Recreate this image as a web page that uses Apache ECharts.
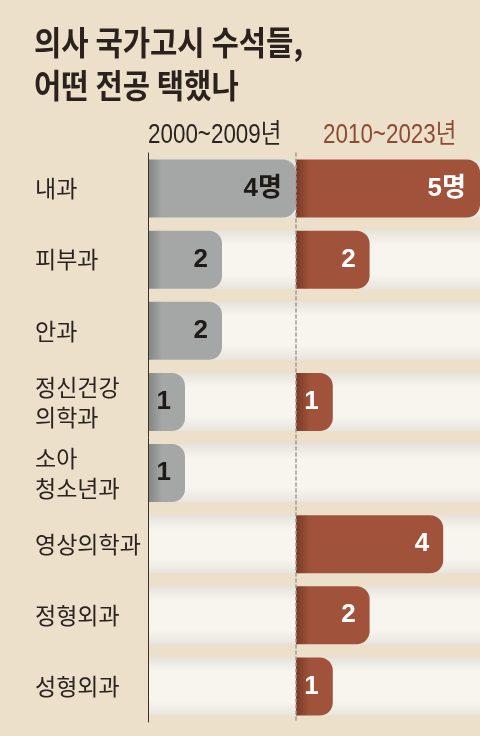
<!DOCTYPE html>
<html>
<head>
<meta charset="utf-8">
<script src="https://cdn.jsdelivr.net/npm/echarts@6/dist/echarts.min.js"></script>
<style>
  html, body { margin: 0; padding: 0; background: #ece0cb; }
  #main { width: 480px; height: 736px; }
</style>
</head>
<body>
<div id="main"></div>
<script>
// 전공 (위에서 아래 순서)
var categories = ['내과', '피부과', '안과', '정신건강\n의학과', '소아\n청소년과', '영상의학과', '정형외과', '성형외과'];
// 수석 인원 (명)
var early = [4, 2, 2, 1, 1, 0, 0, 0];   // 2000~2009년
var late = [5, 2, 0, 1, 0, 4, 2, 1];    // 2010~2023년
var periodLabels = ['2000~2009년', '2010~2023년'];
var titleLines = ['의사 국가고시 수석들,', '어떤 전공 택했나'];

var chartDom = document.getElementById('main');
var myChart = echarts.init(chartDom);

var unitPx = 37;
function barData(values, dark, base) {
  return values.map(function (v) {
    var edge = v > 0 ? Math.min(0.9, 14 / (v * unitPx)) : 0.5;
    return {
      value: v,
      itemStyle: {
        color: new echarts.graphic.LinearGradient(0, 0, 1, 0, [
          { offset: 0, color: dark },
          { offset: edge, color: base },
          { offset: 1, color: base }
        ])
      }
    };
  });
}

var trackColor = new echarts.graphic.LinearGradient(0, 0, 0, 1, [
  { offset: 0, color: '#e6e3dd' },
  { offset: 0.25, color: '#f8f5ef' },
  { offset: 0.75, color: '#f8f5ef' },
  { offset: 1, color: '#e8e5de' }
]);

function valueText(p) {
  if (!(p.value > 0)) return '';
  return p.dataIndex === 0 ? p.value + '명' : String(p.value);
}

var option = {
  backgroundColor: '#ece0cb',
  animation: false,
  graphic: [
    { type: 'text', left: 34, top: 26, scaleX: 0.9, style: { text: titleLines[0], font: 'bold 33px "Noto Sans CJK KR"', fill: '#2b221d' } },
    { type: 'text', left: 34, top: 69, scaleX: 0.9, style: { text: titleLines[1], font: 'bold 33px "Noto Sans CJK KR"', fill: '#2b221d' } },
    { type: 'text', left: 148, top: 122, scaleX: 0.83, style: { text: periodLabels[0], font: '27px "Liberation Sans", "Noto Sans CJK KR"', fill: '#2a2420' } },
    { type: 'text', left: 323, top: 122, scaleX: 0.83, style: { text: periodLabels[1], font: '27px "Liberation Sans", "Noto Sans CJK KR"', fill: '#8d4b33' } }
  ],
  grid: [
    { left: 148, width: 148, top: 153, height: 569 },
    { left: 296, width: 185, top: 153, height: 569 }
  ],
  xAxis: [
    { type: 'value', gridIndex: 0, min: 0, max: 4, show: false },
    { type: 'value', gridIndex: 1, min: 0, max: 5, show: false }
  ],
  yAxis: [
    {
      type: 'category', gridIndex: 0, inverse: true, data: categories, z: 3,
      axisLine: { show: true, lineStyle: { color: '#3b3029', width: 1 } },
      axisTick: { show: false },
      axisLabel: {
        align: 'left', margin: 113, fontSize: 23, lineHeight: 30,
        color: '#2b2320', fontFamily: '"Noto Sans CJK KR"'
      }
    },
    {
      type: 'category', gridIndex: 1, inverse: true, data: categories, z: 3,
      axisLine: { show: true, lineStyle: { color: '#a09a92', width: 1.5, type: [3, 3] } },
      axisTick: { show: false },
      axisLabel: { show: false }
    }
  ],
  series: [
    {
      type: 'bar', xAxisIndex: 0, yAxisIndex: 0, barWidth: 58,
      data: barData(early, '#838584', '#a5a7a6'),
      itemStyle: { borderRadius: [0, 13, 13, 0] },
      showBackground: true,
      backgroundStyle: { color: trackColor },
      label: {
        show: true, position: 'insideRight', distance: 14,
        color: '#1e1a18', fontSize: 26, fontWeight: 'bold',
        fontFamily: '"Liberation Sans", "Noto Sans CJK KR"',
        formatter: valueText
      }
    },
    {
      type: 'bar', xAxisIndex: 1, yAxisIndex: 1, barWidth: 58,
      data: barData(late, '#7a3a26', '#a0533a'),
      itemStyle: { borderRadius: [0, 13, 13, 0] },
      showBackground: true,
      backgroundStyle: { color: trackColor },
      label: {
        show: true, position: 'insideRight', distance: 14,
        color: '#ffffff', fontSize: 26, fontWeight: 'bold',
        fontFamily: '"Liberation Sans", "Noto Sans CJK KR"',
        formatter: valueText
      }
    }
  ]
};

option && myChart.setOption(option);
</script>
</body>
</html>
